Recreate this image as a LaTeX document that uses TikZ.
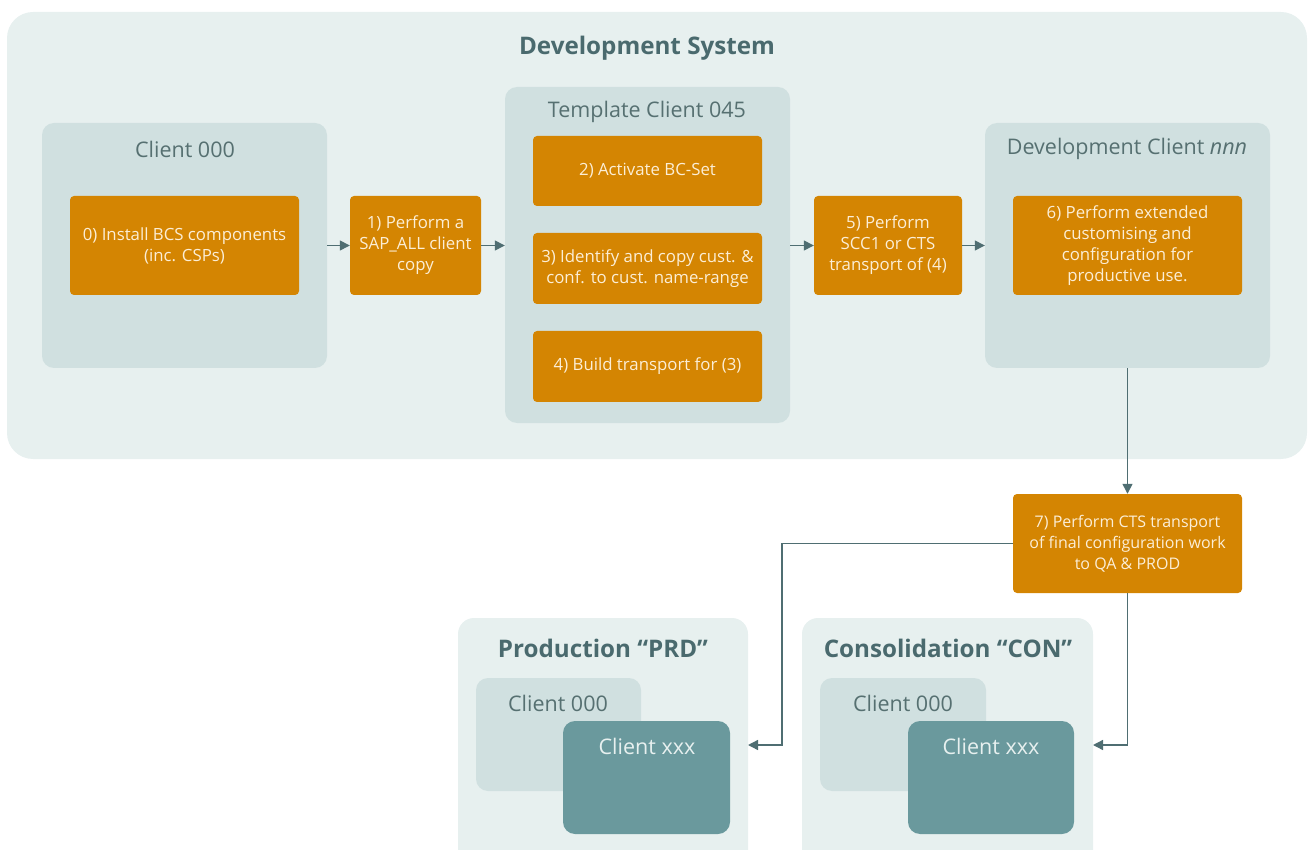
\documentclass[tikz,border=0pt]{standalone}
\usepackage{fontspec}
\setmainfont{Open Sans}
\usetikzlibrary{arrows.meta}

\definecolor{sysbg}{RGB}{231,240,239}
\definecolor{panelbg}{RGB}{208,224,224}
\definecolor{taskor}{RGB}{212,133,2}
\definecolor{tasktxt}{RGB}{252,238,214}
\definecolor{inktitle}{RGB}{74,106,110}
\definecolor{inkpanel}{RGB}{86,112,113}
\definecolor{clientxxx}{RGB}{106,153,157}
\definecolor{linkc}{RGB}{79,110,114}

\tikzset{
  sysbox/.style={fill=sysbg, draw=none, rounded corners=26pt, inner sep=0pt},
  panel/.style={fill=panelbg, draw=none, rounded corners=12pt, inner sep=0pt},
  task/.style={fill=taskor, draw=none, rounded corners=4pt, inner sep=0pt, text=tasktxt,
    align=center, font=\fontsize{16.8}{21}\selectfont},
  xxxbox/.style={fill=clientxxx, draw=none, rounded corners=12pt, inner sep=0pt},
  systitle/.style={text=inktitle, font=\fontsize{24.2}{29}\selectfont\bfseries},
  paneltitle/.style={text=inkpanel, font=\fontsize{21.5}{25}\selectfont},
  link/.style={draw=linkc, line width=1.4pt, -{Triangle[length=10pt,width=10pt]}}
}

\begin{document}
\begin{tikzpicture}[x=1pt,y=1pt,yscale=-1]
  \useasboundingbox (0,0) rectangle (1310,850);
  \clip (0,0) rectangle (1310,850);

  % development system
  \node[sysbox, minimum width=1300pt, minimum height=447pt] (dev) at (657,235.5) {};
  \node[systitle] (devtitle) at (647,48) {Development System};

  % client 000
  \node[panel, minimum width=285pt, minimum height=245pt] (c000) at (184.5,245.5) {};
  \node[paneltitle] (c000title) at (185,149) {Client 000};
  \node[task, minimum width=229pt, minimum height=99pt] (t0) at (184.5,245.5)
    {0) Install BCS components\\(inc. CSPs)};

  \node[task, minimum width=131pt, minimum height=99pt] (t1) at (415.5,245.5)
    {1) Perform a\\SAP\_ALL client\\copy};

  % template client
  \node[panel, minimum width=285pt, minimum height=336pt] (tmpl) at (647.5,255) {};
  \node[paneltitle] (tmpltitle) at (647,112) {Template Client 045};
  \node[task, minimum width=229pt, minimum height=70pt] (t2) at (647.5,171) {2) Activate BC-Set};
  \node[task, minimum width=229pt, minimum height=71pt] (t3) at (647.5,268.5)
    {3) Identify and copy cust. \&\\conf. to cust. name-range};
  \node[task, minimum width=229pt, minimum height=71pt] (t4) at (647.5,366.5) {4) Build transport for (3)};

  \node[task, minimum width=148pt, minimum height=99pt] (t5) at (888,245.5)
    {5) Perform\\SCC1 or CTS\\transport of (4)};

  % development client
  \node[panel, minimum width=285pt, minimum height=245pt] (dcl) at (1127.5,245.5) {};
  \node[paneltitle] (dcltitle) at (1127,149) {Development Client \textit{nnn}};
  \node[task, minimum width=229pt, minimum height=99pt] (t6) at (1127.5,245.5)
    {6) Perform extended\\customising and\\configuration for\\productive use.};

  \node[task, minimum width=229pt, minimum height=99pt, font=\fontsize{16}{21}\selectfont] (t7) at (1127.5,543.5)
    {7) Perform CTS transport\\of final configuration work\\to QA \& PROD};

  % production
  \node[sysbox, rounded corners=16pt, minimum width=290pt, minimum height=252pt] (prd) at (603,744) {};
  \node[systitle] (prdtitle) at (603,648) {Production “PRD”};
  \node[panel, minimum width=165pt, minimum height=113pt] (prd000) at (558.5,734.5) {};
  \node[paneltitle] (prd000title) at (558,703) {Client 000};
  \node[xxxbox, minimum width=167pt, minimum height=113pt] (prdxxx) at (646.5,777.5) {};
  \node[paneltitle, text=sysbg] (prdxxxtitle) at (647,746) {Client xxx};

  % consolidation
  \node[sysbox, rounded corners=16pt, minimum width=291pt, minimum height=252pt] (con) at (947.5,744) {};
  \node[systitle] (contitle) at (948,648) {Consolidation “CON”};
  \node[panel, minimum width=166pt, minimum height=113pt] (con000) at (903,734.5) {};
  \node[paneltitle] (con000title) at (903,703) {Client 000};
  \node[xxxbox, minimum width=166pt, minimum height=113pt] (conxxx) at (991,777.5) {};
  \node[paneltitle, text=sysbg] (conxxxtitle) at (991,746) {Client xxx};

  % connectors
  \coordinate (prdin) at (748,745);
  \coordinate (conin) at (1093,745);
  \draw[link] (c000.east) -- (t1.west);
  \draw[link] (t1.east) -- (tmpl.west |- t1.east);
  \draw[link] (tmpl.east |- t5.west) -- (t5.west);
  \draw[link] (t5.east) -- (dcl.west);
  \draw[link] (dcl.south) -- (t7.north);
  \draw[link] (t7.west) -| ([xshift=34pt]prdin) -- (prdin);
  \draw[link] (t7.south) |- (conin);
\end{tikzpicture}
\end{document}
